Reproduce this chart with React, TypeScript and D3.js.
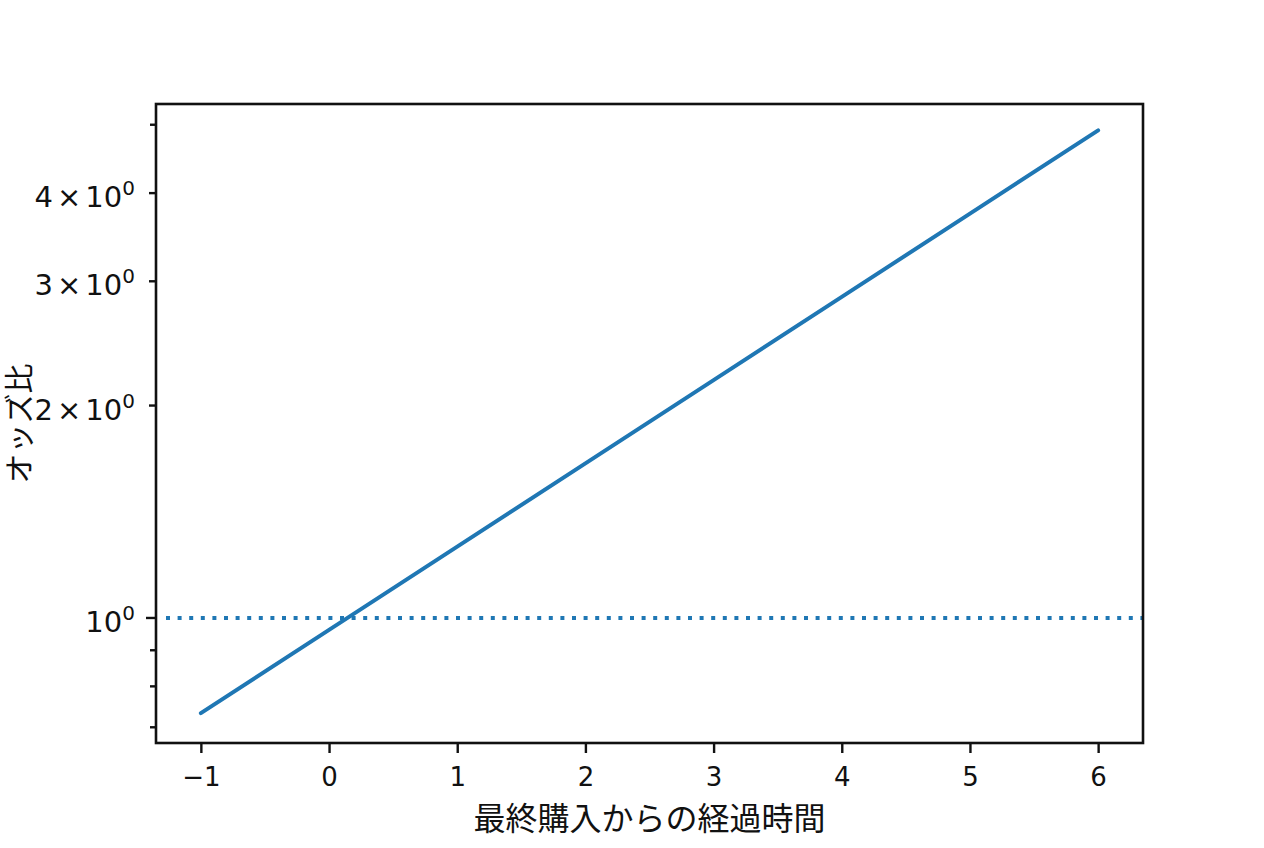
import React, { useEffect, useRef } from 'react';
import * as d3 from 'd3';

// elapsed time since last purchase vs odds ratio (log scale)
const elapsedTime = [-1, 0, 1, 2, 3, 4, 5, 6];
const oddsRatio = [0.733, 0.962, 1.262, 1.656, 2.173, 2.851, 3.741, 4.91];
const referenceOdds = 1;

const xTicks = [-1, 0, 1, 2, 3, 4, 5, 6];
const yMajorTicks = [1];
const yLabeledMinorTicks = [2, 3, 4];
const yMinorTicks = [0.7, 0.8, 0.9, 5];

const xLabel = '最終購入からの経過時間';
const yLabel = 'オッズ比';

const WIDTH = 1264;
const HEIGHT = 848;
const margin = { top: 104, right: 121, bottom: 105, left: 156 };
const lineColor = '#1f77b4';
const tickFont = '"DejaVu Sans", sans-serif';
const cjkFont = '"Noto Sans CJK JP", sans-serif';

const App: React.FC = () => {
  const ref = useRef<SVGSVGElement>(null);

  useEffect(() => {
    const svg = d3.select(ref.current);
    svg.selectAll('*').remove();

    const x = d3
      .scaleLinear()
      .domain([-1.35, 6.35])
      .range([margin.left, WIDTH - margin.right]);
    const y = d3
      .scaleLog()
      .domain([0.665, 5.35])
      .range([HEIGHT - margin.bottom, margin.top]);

    const [x0, x1] = x.range();
    const [yBottom, yTop] = y.range();

    svg.append('rect').attr('width', WIDTH).attr('height', HEIGHT).attr('fill', '#fff');

    // reference line at odds = 1
    svg
      .append('line')
      .attr('x1', x0 + 10)
      .attr('x2', x1)
      .attr('y1', y(referenceOdds))
      .attr('y2', y(referenceOdds))
      .attr('stroke', lineColor)
      .attr('stroke-width', 4)
      .attr('stroke-dasharray', '4 7.6');

    const line = d3
      .line<number>()
      .x((_, i) => x(elapsedTime[i]))
      .y((d) => y(d));

    svg
      .append('path')
      .datum(oddsRatio)
      .attr('fill', 'none')
      .attr('stroke', lineColor)
      .attr('stroke-width', 4)
      .attr('stroke-linecap', 'round')
      .attr('d', line);

    // x axis
    const xAxis = svg
      .append('g')
      .attr('transform', `translate(0,${yBottom})`)
      .call(
        d3
          .axisBottom(x)
          .tickValues(xTicks)
          .tickSize(10)
          .tickPadding(15)
          .tickFormat((d) => ((d as number) < 0 ? `−${Math.abs(d as number)}` : `${d}`))
      );
    xAxis.select('.domain').remove();
    xAxis.selectAll('line').attr('stroke', '#111').attr('stroke-width', 2.4);
    xAxis
      .selectAll('text')
      .attr('fill', '#111')
      .style('font-family', tickFont)
      .style('font-size', '26px');

    // y axis ticks
    const yAxis = svg.append('g');
    const yTickList = [
      ...yMajorTicks.map((v) => ({ v, len: 10 })),
      ...yLabeledMinorTicks.map((v) => ({ v, len: 7 })),
      ...yMinorTicks.map((v) => ({ v, len: 6 })),
    ];
    yAxis
      .selectAll('line')
      .data(yTickList)
      .join('line')
      .attr('x1', (d) => x0 - d.len)
      .attr('x2', x0)
      .attr('y1', (d) => y(d.v))
      .attr('y2', (d) => y(d.v))
      .attr('stroke', '#111')
      .attr('stroke-width', 2.4);

    const labelX = 135;
    const labelled = [...yMajorTicks, ...yLabeledMinorTicks];
    labelled.forEach((v) => {
      const t = yAxis
        .append('text')
        .attr('x', labelX)
        .attr('y', y(v) + 14)
        .attr('text-anchor', 'end')
        .attr('fill', '#111')
        .style('font-family', tickFont)
        .style('font-size', '29px');
      if (v !== 1) {
        t.append('tspan').text(`${v}`);
        t.append('tspan').attr('dx', 4).text('×');
        t.append('tspan').attr('dx', 4).text('10');
      } else {
        t.append('tspan').text('10');
      }
      t.append('tspan').attr('dy', -12).style('font-size', '20px').text('0');
    });

    // frame
    svg
      .append('rect')
      .attr('x', x0)
      .attr('y', yTop)
      .attr('width', x1 - x0)
      .attr('height', yBottom - yTop)
      .attr('fill', 'none')
      .attr('stroke', '#111')
      .attr('stroke-width', 2.6);

    // axis labels
    svg
      .append('text')
      .attr('x', (x0 + x1) / 2)
      .attr('y', 816)
      .attr('text-anchor', 'middle')
      .attr('dominant-baseline', 'central')
      .attr('fill', '#111')
      .style('font-family', cjkFont)
      .style('font-size', '32px')
      .text(xLabel);

    svg
      .append('text')
      .attr('transform', `translate(17,${(yTop + yBottom) / 2}) rotate(-90)`)
      .attr('text-anchor', 'middle')
      .attr('dominant-baseline', 'central')
      .attr('fill', '#111')
      .style('font-family', cjkFont)
      .style('font-size', '30px')
      .text(yLabel);
  }, []);

  return (
    <div style={{ position: 'absolute', left: 0, top: 0 }}>
      <svg ref={ref} width={WIDTH} height={HEIGHT} style={{ display: 'block' }} />
    </div>
  );
};

export default App;
